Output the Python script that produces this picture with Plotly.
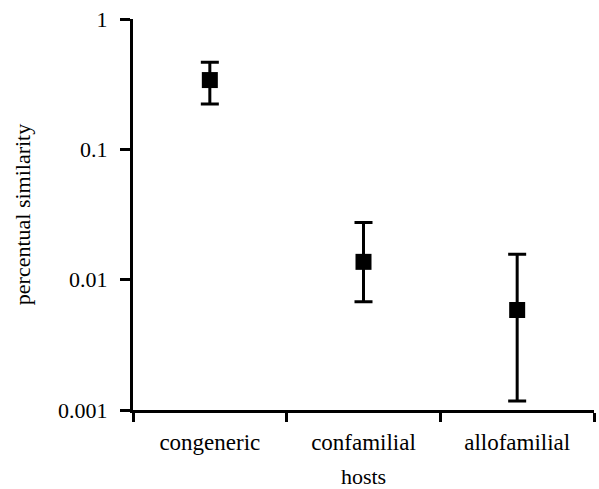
import plotly.graph_objects as go

categories = ["congeneric", "confamilial", "allofamilial"]
means = [0.340, 0.0137, 0.00585]
upper = [0.465, 0.0275, 0.0157]
lower = [0.223, 0.00677, 0.00117]
ytick_vals = [0.001, 0.01, 0.1, 1]
ytick_text = ["0.001", "0.01", "0.1", "1"]

err_plus = [u - m for u, m in zip(upper, means)]
err_minus = [m - l for m, l in zip(means, lower)]

font = "Liberation Serif, Times New Roman, serif"

fig = go.Figure()
fig.add_trace(go.Scatter(
    x=categories, y=means, mode="markers",
    marker=dict(symbol="square", size=16, color="black"),
    error_y=dict(type="data", array=err_plus, arrayminus=err_minus,
                 color="black", thickness=3, width=9, symmetric=False),
    showlegend=False,
))

fig.update_layout(
    width=599, height=489,
    margin=dict(l=133, r=5, t=19, b=79),
    paper_bgcolor="white", plot_bgcolor="white",
    font=dict(family=font, size=22, color="black"),
    xaxis=dict(
        type="category", range=[-0.5, 2.5], tickson="boundaries",
        showline=True, linecolor="black", linewidth=3,
        ticks="outside", ticklen=9, tickwidth=3, tickcolor="black",
        showgrid=False, zeroline=False, automargin=False,
        tickfont=dict(family=font, size=23),
        ticklabelstandoff=9,
        title=dict(text="hosts", font=dict(family=font, size=22), standoff=17),
    ),
    yaxis=dict(
        type="log", range=[-3, 0],
        tickvals=ytick_vals, ticktext=ytick_text,
        showline=True, linecolor="black", linewidth=3,
        ticks="outside", ticklen=10, tickwidth=3, tickcolor="black",
        showgrid=False, zeroline=False, automargin=False,
        tickfont=dict(family=font, size=22),
        ticklabelstandoff=8,
        title=dict(text="percentual similarity", font=dict(family=font, size=22), standoff=22),
    ),
)

fig.write_html("out.html")
